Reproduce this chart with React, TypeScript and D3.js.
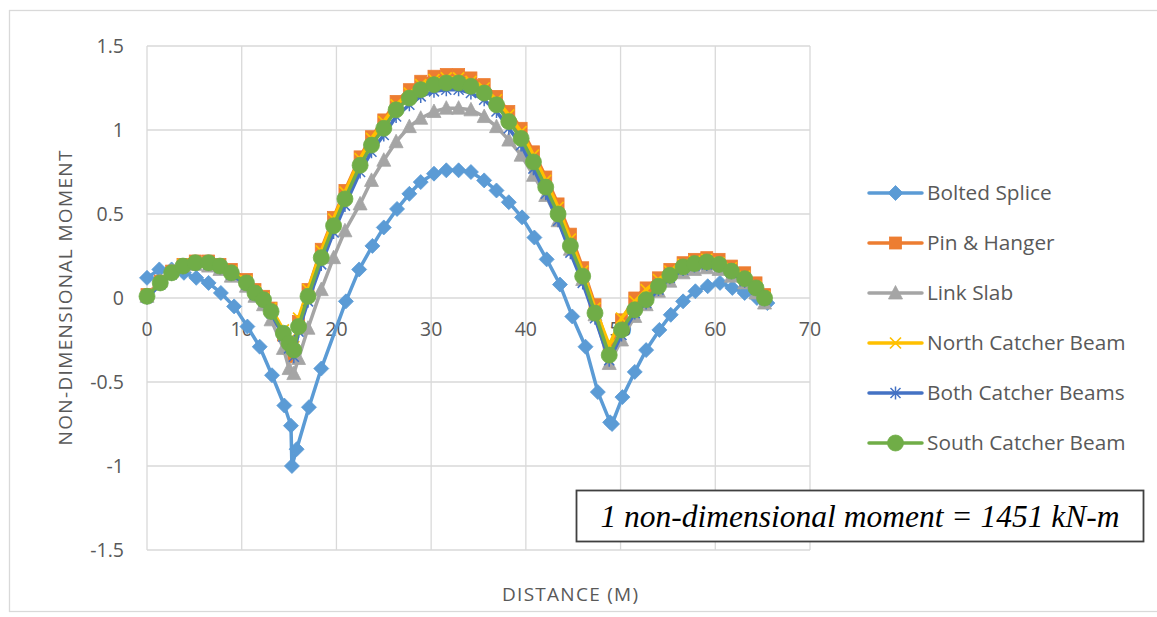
import React from 'react';
import * as d3 from 'd3';

const W = 1157;
const H = 617;

const xTicks = [0, 10, 20, 30, 40, 50, 60, 70];
const yTicks = [-1.5, -1, -0.5, 0, 0.5, 1, 1.5];
const yTickLabels = ['-1.5', '-1', '-0.5', '0', '0.5', '1', '1.5'];

const xBolted = [0, 1.3, 2.6, 3.9, 5.2, 6.5, 7.8, 9.2, 10.6, 11.9,
  13.2, 14.5, 15.2, 15.3, 15.8, 17.1, 18.4, 21.0, 22.4, 23.8,
  25.0, 26.4, 27.7, 28.9, 30.3, 31.6, 32.9, 34.2, 35.6, 36.9,
  38.2, 39.6, 40.9, 42.2, 43.6, 44.9, 46.3, 47.6, 48.9, 49.1,
  50.2, 51.5, 52.7, 54.1, 55.3, 56.6, 57.9, 59.2, 60.5, 61.8,
  63.1, 64.4, 65.5];
const boltedSplice = [0.12, 0.17, 0.17, 0.15, 0.12, 0.09, 0.03, -0.05, -0.17, -0.29,
  -0.46, -0.64, -0.76, -1.0, -0.9, -0.65, -0.42, -0.02, 0.17, 0.31,
  0.42, 0.53, 0.62, 0.69, 0.74, 0.76, 0.76, 0.75, 0.70, 0.64,
  0.57, 0.48, 0.36, 0.23, 0.08, -0.11, -0.29, -0.56, -0.74, -0.75,
  -0.59, -0.44, -0.31, -0.19, -0.10, -0.02, 0.04, 0.07, 0.09, 0.06,
  0.03, 0.00, -0.03];

const xMain = [0, 1.4, 2.6, 3.8, 5.1, 6.5, 7.7, 8.9, 10.5, 11.4,
  12.3, 13.1, 14.4, 15.0, 15.5, 16.0, 17.0, 18.4, 19.7, 20.9,
  22.5, 23.7, 25.0, 26.3, 27.7, 28.9, 30.3, 31.6, 32.9, 34.2,
  35.6, 36.9, 38.2, 39.5, 40.8, 42.1, 43.4, 44.7, 46.0, 47.3,
  48.8, 50.1, 51.5, 52.7, 54.0, 55.2, 56.6, 57.8, 59.1, 60.4,
  61.7, 63.1, 64.3, 65.2];

const pinHanger = [0.02, 0.10, 0.16, 0.20, 0.22, 0.22, 0.20, 0.17, 0.11, 0.05,
  0.01, -0.06, -0.22, -0.30, -0.35, -0.14, 0.05, 0.29, 0.48, 0.64,
  0.84, 0.96, 1.06, 1.17, 1.24, 1.29, 1.32, 1.33, 1.33, 1.31,
  1.27, 1.20, 1.11, 1.01, 0.87, 0.72, 0.56, 0.38, 0.18, -0.04,
  -0.31, -0.13, 0.00, 0.06, 0.12, 0.17, 0.21, 0.23, 0.24, 0.23,
  0.19, 0.15, 0.09, 0.02];

const linkSlab = [0.01, 0.10, 0.16, 0.19, 0.20, 0.19, 0.17, 0.13, 0.07, 0.01,
  -0.04, -0.13, -0.30, -0.42, -0.45, -0.36, -0.18, 0.05, 0.24, 0.40,
  0.56, 0.70, 0.82, 0.93, 1.02, 1.07, 1.11, 1.13, 1.13, 1.12,
  1.08, 1.02, 0.94, 0.85, 0.73, 0.61, 0.46, 0.29, 0.11, -0.10,
  -0.39, -0.25, -0.11, -0.04, 0.04, 0.10, 0.15, 0.17, 0.18, 0.17,
  0.13, 0.09, 0.03, -0.03];

const northCatcher = [0.01, 0.09, 0.15, 0.20, 0.21, 0.21, 0.19, 0.16, 0.10, 0.04,
  0.00, -0.06, -0.19, -0.25, -0.29, -0.12, 0.05, 0.28, 0.47, 0.63,
  0.83, 0.95, 1.05, 1.15, 1.22, 1.27, 1.30, 1.31, 1.31, 1.29,
  1.25, 1.18, 1.09, 0.99, 0.85, 0.70, 0.54, 0.35, 0.16, -0.06,
  -0.28, -0.12, -0.02, 0.05, 0.11, 0.16, 0.20, 0.22, 0.23, 0.21,
  0.18, 0.13, 0.07, 0.01];

const bothCatchers = [0.00, 0.08, 0.14, 0.18, 0.20, 0.20, 0.18, 0.14, 0.08, 0.02,
  -0.02, -0.09, -0.23, -0.30, -0.35, -0.20, -0.02, 0.20, 0.39, 0.55,
  0.75, 0.87, 0.97, 1.08, 1.15, 1.20, 1.23, 1.24, 1.24, 1.22,
  1.18, 1.11, 1.01, 0.91, 0.77, 0.62, 0.46, 0.27, 0.09, -0.12,
  -0.37, -0.22, -0.09, -0.03, 0.05, 0.12, 0.17, 0.19, 0.20, 0.19,
  0.15, 0.10, 0.05, -0.01];

const southCatcher = [0.01, 0.09, 0.15, 0.19, 0.21, 0.21, 0.19, 0.15, 0.09, 0.03,
  -0.01, -0.08, -0.21, -0.27, -0.31, -0.17, 0.01, 0.24, 0.43, 0.59,
  0.79, 0.91, 1.01, 1.12, 1.19, 1.24, 1.27, 1.28, 1.28, 1.26,
  1.22, 1.15, 1.05, 0.95, 0.81, 0.66, 0.50, 0.31, 0.13, -0.09,
  -0.34, -0.19, -0.07, -0.01, 0.07, 0.135, 0.185, 0.205, 0.215, 0.20,
  0.16, 0.115, 0.06, 0.0];

const seriesNames = ['Bolted Splice', 'Pin & Hanger', 'Link Slab', 'North Catcher Beam', 'Both Catcher Beams', 'South Catcher Beam'];
const seriesColors = ['#5B9BD5', '#ED7D31', '#A5A5A5', '#FFC000', '#4472C4', '#70AD47'];
const seriesMarkers = ['diamond', 'square', 'triangle', 'x', 'star', 'circle'];
const seriesX = [xBolted, xMain, xMain, xMain, xMain, xMain];
const seriesY = [boltedSplice, pinHanger, linkSlab, northCatcher, bothCatchers, southCatcher];

const FONT = '"Open Sans", sans-serif';
const TEXT = '#595959';
const GRID = '#D9D9D9';

const xs = d3.scaleLinear().domain([0, 70]).range([147, 810]);
const ys = d3.scaleLinear().domain([-1.5, 1.5]).range([550, 46]);

function Marker({ kind, color, cx, cy }: { kind: string; color: string; cx: number; cy: number }) {
  const t = `translate(${cx},${cy})`;
  switch (kind) {
    case 'diamond':
      return <path transform={t} d="M0,-7.5L7.5,0L0,7.5L-7.5,0Z" fill={color} stroke={color} strokeWidth={0.8} />;
    case 'square':
      return <rect x={cx - 6} y={cy - 6} width={12} height={12} fill={color} stroke={color} strokeWidth={0.8} />;
    case 'triangle':
      return <path transform={t} d="M0,-7.5L7,6L-7,6Z" fill={color} stroke={color} strokeWidth={0.8} />;
    case 'x':
      return <path transform={t} d="M-5.5,-5.5L5.5,5.5M-5.5,5.5L5.5,-5.5" fill="none" stroke={color} strokeWidth={1.7} />;
    case 'star':
      return <path transform={t} d="M-5,-5L5,5M-5,5L5,-5M0,-6.5L0,6.5" fill="none" stroke={color} strokeWidth={1.5} />;
    default:
      return <circle cx={cx} cy={cy} r={8} fill={color} stroke={color} strokeWidth={0.8} />;
  }
}

export default function App() {
  const line = d3.line<[number, number]>().x(d => xs(d[0])).y(d => ys(d[1]));
  const legendY = [193, 243, 293, 343, 393, 443];
  return (
    <svg width={W} height={H} style={{ position: 'absolute', left: 0, top: 0, background: '#fff' }}>
      <rect x={0} y={0} width={W} height={H} fill="#fff" />
      <rect x={9.5} y={10.5} width={1160} height={601} fill="#fff" stroke={GRID} strokeWidth={1.3} />
      {yTicks.map(v => (
        <line key={'gy' + v} x1={xs(0)} x2={xs(70)} y1={ys(v)} y2={ys(v)} stroke={GRID} strokeWidth={1.3} />
      ))}
      {xTicks.map(v => (
        <line key={'gx' + v} x1={xs(v)} x2={xs(v)} y1={ys(1.5)} y2={ys(-1.5)} stroke={GRID} strokeWidth={1.3} />
      ))}
      {yTicks.map((v, i) => (
        <text key={'ty' + v} x={124} y={ys(v)} dy="0.35em" textAnchor="end" fontFamily={FONT} fontSize={19.5} fill={TEXT}>{yTickLabels[i]}</text>
      ))}
      {xTicks.map(v => (
        <text key={'tx' + v} x={xs(v)} y={ys(0) + 38} textAnchor="middle" fontFamily={FONT} fontSize={19.5} fill={TEXT}>{v}</text>
      ))}
      <text transform={`translate(72,${ys(0)}) rotate(-90)`} textAnchor="middle" fontFamily={FONT} fontSize={19} textLength={295} lengthAdjust="spacing" fill={TEXT}>NON-DIMENSIONAL MOMENT</text>
      <text x={570} y={601} textAnchor="middle" fontFamily={FONT} fontSize={19} textLength={136} lengthAdjust="spacing" fill={TEXT}>DISTANCE (M)</text>

      {seriesNames.map((name, si) => {
        const pts: [number, number][] = seriesX[si].map((xv, i) => [xv, seriesY[si][i]]);
        return (
          <g key={name}>
            <path d={line(pts) || ''} fill="none" stroke={seriesColors[si]} strokeWidth={3.5} strokeLinejoin="round" strokeLinecap="round" />
            {pts.map((p, i) => (
              <Marker key={i} kind={seriesMarkers[si]} color={seriesColors[si]} cx={xs(p[0])} cy={ys(p[1])} />
            ))}
          </g>
        );
      })}

      {seriesNames.map((name, si) => (
        <g key={'lg' + name}>
          <line x1={869} x2={922} y1={legendY[si]} y2={legendY[si]} stroke={seriesColors[si]} strokeWidth={3.5} strokeLinecap="round" />
          <Marker kind={seriesMarkers[si]} color={seriesColors[si]} cx={895.5} cy={legendY[si]} />
          <text x={927} y={legendY[si]} dy="0.35em" fontFamily={FONT} fontSize={20.8} fill={TEXT}>{name}</text>
        </g>
      ))}

      <rect x={576.5} y={490.5} width={567} height={51} fill="#fff" stroke="#404040" strokeWidth={1.8} />
      <text x={860} y={527} textAnchor="middle" fontFamily='"Liberation Serif", "Times New Roman", serif' fontStyle="italic" fontSize={31.5} fill="#000">1 non-dimensional moment = 1451 kN-m</text>
    </svg>
  );
}
